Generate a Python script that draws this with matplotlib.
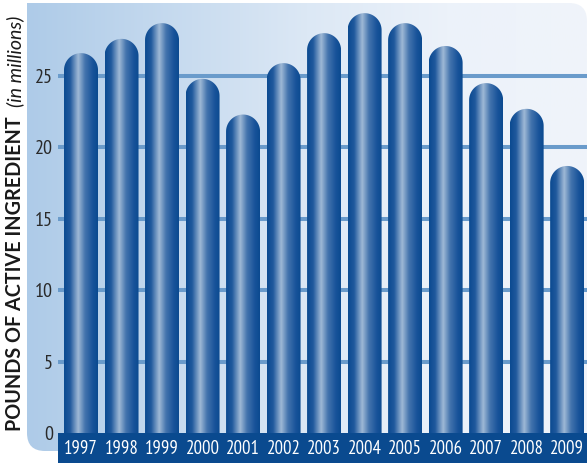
import logging
import numpy as np
import matplotlib
matplotlib.use("Agg")
import matplotlib.pyplot as plt
from matplotlib.colors import LinearSegmentedColormap
from matplotlib.patches import Polygon, Rectangle, PathPatch
from matplotlib.path import Path

logging.getLogger("matplotlib.font_manager").setLevel(logging.ERROR)

# data (pounds of active ingredient, millions)
years = ["1997", "1998", "1999", "2000", "2001", "2002", "2003",
         "2004", "2005", "2006", "2007", "2008", "2009"]
pounds = [26.6, 27.6, 28.7, 24.8, 22.3, 25.9, 28.0,
          29.4, 28.7, 27.1, 24.5, 22.7, 18.7]
y_ticks = [0, 5, 10, 15, 20, 25]

W, H = 587, 463
narrow = ["PT Sans Narrow", "Asap Condensed", "Archivo Narrow", "DejaVu Sans"]
humanist = ["Lato", "PT Sans", "DejaVu Sans"]

fig = plt.figure(figsize=(W / 100, H / 100), dpi=100)
fig.patch.set_facecolor("white")

# background layer in pixel coordinates
bg = fig.add_axes([0, 0, 1, 1], zorder=0)
bg.axis("off")

# rounded panel, square top-left corner
x0, x1, yb, yt, r = 27, 587, 12, 460, 18
verts = [(x0, yt), (x1 - r, yt), (x1, yt), (x1, yt - r), (x1, yb),
         (x0 + r, yb), (x0, yb), (x0, yb + r), (x0, yt)]
codes = [Path.MOVETO, Path.LINETO, Path.CURVE3, Path.CURVE3, Path.LINETO,
         Path.LINETO, Path.CURVE3, Path.CURVE3, Path.CLOSEPOLY]
panel = PathPatch(Path(verts, codes), facecolor="none", edgecolor="none",
                  transform=bg.transData)
bg.add_patch(panel)
panel_cmap = LinearSegmentedColormap.from_list(
    "panel", [(0, "#aecbe8"), (0.5, "#dce8f5"), (0.75, "#ecf2fa"), (1, "#f0f4fa")])
grad = np.linspace(0, 1, 256).reshape(1, -1)
im = bg.imshow(grad, cmap=panel_cmap, extent=(x0, x1, yb, yt), aspect="auto",
               interpolation="bilinear")
im.set_clip_path(panel)

# dark band under the bars
bg.add_patch(Rectangle((58, 0), W - 58, 30, facecolor="#0a4a8f", edgecolor="none"))
bg.set_xlim(0, W)
bg.set_ylim(0, H)

# main axes
ax = fig.add_axes([58 / W, 30 / H, (W - 58) / W, 433 / H], zorder=1)
ax.patch.set_alpha(0)
xmin, xmax = -0.568, 12.49
ymax = 30.32
px_x = (W - 58) / (xmax - xmin)
px_y = 433 / ymax

for g in y_ticks[1:]:
    ax.axhline(g, color="#6a9bcb", linewidth=2.9, zorder=1)

bar_cmap = LinearSegmentedColormap.from_list(
    "bar", [(0, "#0b4a90"), (0.18, "#20599d"), (0.42, "#9fb9d6"),
            (0.62, "#4474ad"), (0.85, "#18539a"), (1, "#0b4a90")])

hw = 17 / px_x
cap = 17 / px_y
t = np.linspace(0, np.pi, 60)
for i, v in enumerate(pounds):
    base = v - cap
    pts = [(i - hw, 0), (i + hw, 0)]
    pts += list(zip(i + hw * np.cos(t), base + cap * np.sin(t)))
    poly = Polygon(pts, closed=True, transform=ax.transData,
                   facecolor="none", edgecolor="none")
    bim = ax.imshow(grad, cmap=bar_cmap, extent=(i - hw, i + hw, 0, v),
                    aspect="auto", interpolation="bilinear", zorder=2)
    bim.set_clip_path(poly)

ax.set_xlim(xmin, xmax)
ax.set_ylim(0, ymax)
ax.set_xticks(range(len(years)))
ax.set_xticklabels(years, color="white", fontsize=13.5, family=narrow)
ax.set_yticks(y_ticks)
ax.set_yticklabels([str(v) for v in y_ticks], color="#2a2a2a", fontsize=14.5,
                   family=narrow)
ax.tick_params(axis="both", length=0)
ax.tick_params(axis="x", pad=5)
ax.tick_params(axis="y", pad=3.5)
for s in ax.spines.values():
    s.set_visible(False)

# rotated axis title in two styles
t1 = fig.text(15 / W, 32 / H, "POUNDS OF ACTIVE INGREDIENT", rotation=90,
              ha="center", va="bottom", fontsize=13, fontweight="bold",
              color="#1a1a1a", family=humanist)
fig.canvas.draw()
bb = t1.get_window_extent()
# fit the bold part to the length seen in the original
t1.set_fontsize(13 * 313 / bb.height)
fig.canvas.draw()
bb = t1.get_window_extent()
t2 = fig.text(15 / W, (bb.y1 + 9) / H, "(in millions)", rotation=90,
              ha="center", va="bottom", fontsize=13.5, fontstyle="italic",
              color="#1a1a1a", family=humanist)
fig.canvas.draw()
bb2 = t2.get_window_extent()
t2.set_fontsize(13.5 * 92 / bb2.height)

fig.savefig("out.png", dpi=100)
